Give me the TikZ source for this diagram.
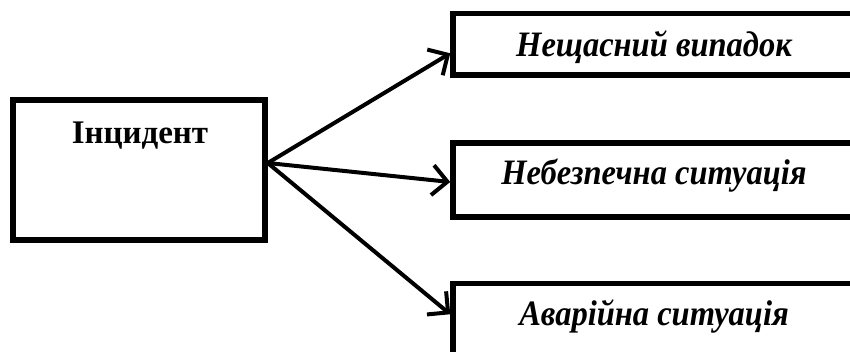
\documentclass[tikz,border=0pt]{standalone}
\usepackage{fontspec}
\usepackage{graphicx}
\setmainfont{Liberation Serif}
\usetikzlibrary{arrows.meta,calc}
\newcommand{\tallit}[1]{\scalebox{1}[1.1]{#1}}
\begin{document}
\begin{tikzpicture}[x=1pt,y=-1pt,
  boxstyle/.style={draw, line width=5.5pt, rectangle, inner sep=0pt},
  rbox/.style={boxstyle, minimum width=402pt, font=\fontsize{32.5}{38}\selectfont\bfseries\itshape},
  arr/.style={line width=4pt, -{Straight Barb[length=15pt,width=30pt]}}]
\useasboundingbox (0,0) rectangle (850,351);
\clip (0,0) rectangle (850,351);
\node[boxstyle, minimum width=252pt, minimum height=140pt] (inc) at (139,170) {};
\node[font=\fontsize{33}{38}\selectfont\bfseries, anchor=base, inner sep=0pt] (inct) at (140,143.3) {Інцидент};
\node[rbox, minimum height=61.5pt, text height=25pt, text depth=0pt] (r1) at (654,44.25) {\tallit{Нещасний випадок}};
\node[rbox, minimum height=74pt, text height=8pt, text depth=0pt] (r2) at (654,180) {\tallit{Небезпечна ситуація}};
\node[rbox, minimum height=80pt, text height=3pt, text depth=0pt] (r3) at (654,323.5) {\tallit{Аварійна ситуація}};
\coordinate (src) at ([yshift=7pt]inc.east);
\draw[arr] (src) -- ([yshift=-9pt]r1.west);
\draw[arr] (src) -- ([yshift=-2pt]r2.west);
\draw[arr] (src) -- ([yshift=-33.5pt]r3.north west);
\end{tikzpicture}
\end{document}
